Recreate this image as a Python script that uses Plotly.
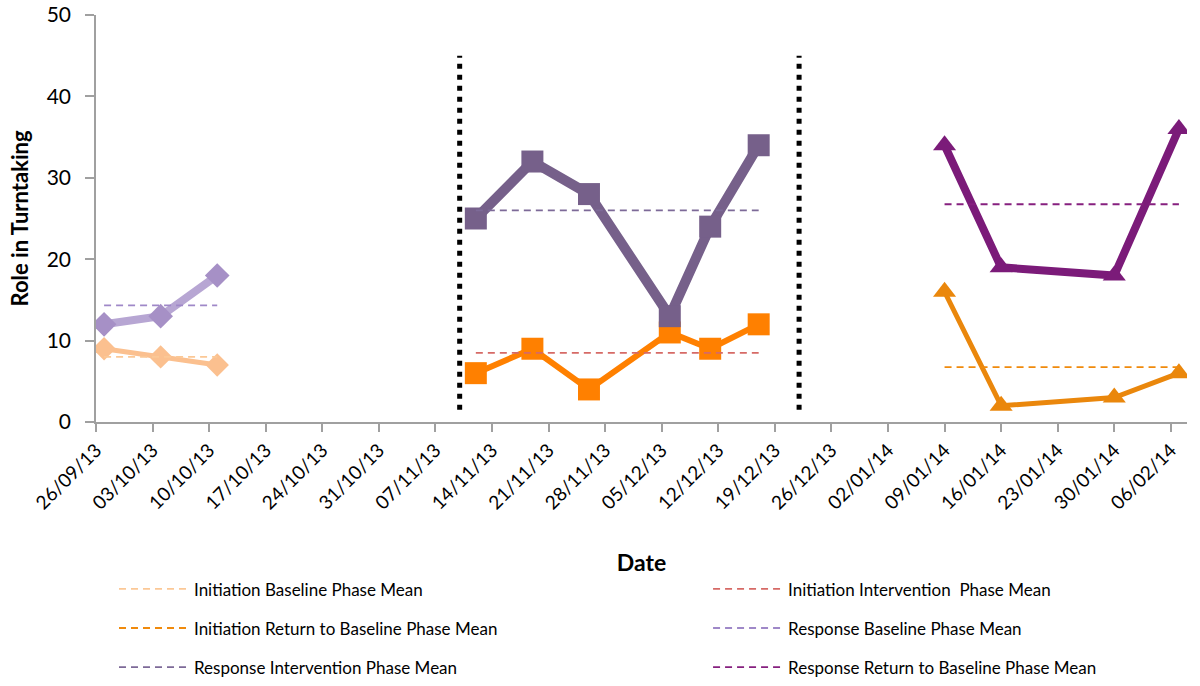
import plotly.graph_objects as go
import numpy as np

# ---------------- data ----------------
baseline_dates = ["2013-09-27", "2013-10-04", "2013-10-11"]
baseline_initiation = [9, 8, 7]
baseline_response = [12, 13, 18]

intervention_dates = ["2013-11-12", "2013-11-19", "2013-11-26", "2013-12-06", "2013-12-11", "2013-12-17"]
intervention_initiation = [6, 9, 4, 11, 9, 12]
intervention_response = [25, 32, 28, 13, 24, 34]

return_dates = ["2014-01-09", "2014-01-16", "2014-01-30", "2014-02-07"]
return_initiation = [16, 2, 3, 6]
return_response = [34, 19, 18, 36]

phase_change_dates = ["2013-11-10", "2013-12-22"]
phase_change_span = [1.5, 45]

x_range = ["2013-09-26", "2014-02-08"]
y_range = [0, 50]

FONT = "Lato"

fig = go.Figure()

# --------- data series (markers + lines) ---------
series = [
    (baseline_dates, baseline_initiation, "#fbc08f", "#fbc08f", 5, "diamond", 18),
    (baseline_dates, baseline_response, "#b7a6d3", "#a690c6", 8, "diamond", 19),
    (intervention_dates, intervention_initiation, "#ff8000", "#ff8000", 6, "square", 22),
    (intervention_dates, intervention_response, "#76608a", "#76608a", 10, "square", 22),
    (return_dates, return_initiation, "#ea870c", "#ea870c", 5, "triangle-up", 20),
    (return_dates, return_response, "#7b1b79", "#7b1b79", 8, "triangle-up", 20),
]
for xs, ys, lc, mc, lw, sym, ms in series:
    fig.add_trace(go.Scatter(
        x=xs, y=ys, mode="lines+markers",
        line=dict(color=lc, width=lw),
        marker=dict(symbol=sym, size=ms, color=mc, line=dict(width=0)),
        showlegend=False, hoverinfo="x+y",
    ))

# --------- phase means (dashed) ---------
means = [
    ("Initiation Baseline Phase Mean", baseline_dates, baseline_initiation, "#fbc896", "legend"),
    ("Initiation Return to Baseline Phase Mean", return_dates, return_initiation, "#f08a0c", "legend"),
    ("Response Intervention Phase Mean", intervention_dates, intervention_response, "#7d6a98", "legend"),
    ("Initiation Intervention  Phase Mean", intervention_dates, intervention_initiation, "#d66a66", "legend2"),
    ("Response Baseline Phase Mean", baseline_dates, baseline_response, "#9f88c8", "legend2"),
    ("Response Return to Baseline Phase Mean", return_dates, return_response, "#86207f", "legend2"),
]
for i, (name, xs, ys, col, lg) in enumerate(means):
    m = float(np.mean(ys))
    fig.add_trace(go.Scatter(
        x=[xs[0], xs[-1]], y=[m, m], mode="lines", name=name,
        line=dict(color=col, width=1.8, dash="7px,5px"),
        legend=lg, legendgroup=f"g{i}", hoverinfo="name+y",
    ))

# --------- phase change lines (dotted) ---------
for d in phase_change_dates:
    fig.add_trace(go.Scatter(
        x=[d, d], y=phase_change_span, mode="lines",
        line=dict(color="black", width=5, dash="5px,6px"),
        showlegend=False, hoverinfo="skip",
    ))

legend_common = dict(
    y=-0.367, xanchor="left", yanchor="top",
    orientation="v", tracegroupgap=14,
    font=dict(size=17, family=FONT), itemwidth=70,
    bgcolor="rgba(0,0,0,0)",
)

fig.update_layout(
    width=1200, height=686,
    margin=dict(l=96, r=13, t=15, b=264, autoexpand=False),
    paper_bgcolor="white", plot_bgcolor="white",
    font=dict(family=FONT, color="black"),
    legend=dict(x=0.0165, **legend_common),
    legend2=dict(x=0.561, **legend_common),
)

fig.update_xaxes(
    type="date", range=x_range, automargin=False,
    tick0="2013-09-26", dtick=7 * 86400000, tickformat="%d/%m/%y",
    tickangle=-45, tickfont=dict(size=19, family=FONT),
    showline=True, linecolor="#a0a0a0", linewidth=1.5,
    ticks="outside", ticklen=8, tickcolor="#a0a0a0", tickwidth=1.5,
    showgrid=False, zeroline=False,
    title=dict(text="<b>Date</b>", font=dict(size=23, family=FONT), standoff=42),
)
fig.update_yaxes(
    range=y_range, dtick=10, automargin=False,
    tickfont=dict(size=21, family=FONT), ticklabelstandoff=10,
    showline=True, linecolor="#a0a0a0", linewidth=1.5,
    ticks="outside", ticklen=9, tickcolor="#a0a0a0", tickwidth=1.5,
    showgrid=False, zeroline=False,
    title=dict(text="<b>Role in Turntaking</b>", font=dict(size=22, family=FONT), standoff=12),
)

fig.write_html("out.html", config={"displayModeBar": False},
               post_script="document.body.style.margin='0';")
